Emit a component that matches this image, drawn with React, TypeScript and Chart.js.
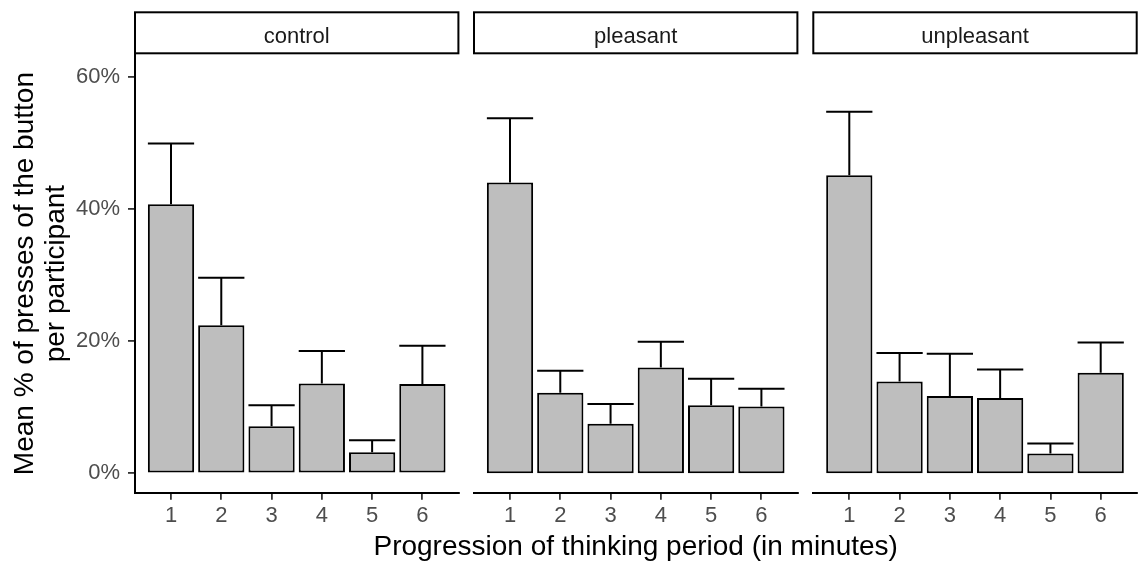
import React, { useEffect, useRef } from 'react';
import { Chart, registerables } from 'chart.js';

Chart.register(...registerables);

// ---- data ----
const minutes = [1, 2, 3, 4, 5, 6];
const conditions = ['control', 'pleasant', 'unpleasant'];
const controlMean = [40.7, 22.4, 7.1, 13.6, 3.2, 13.5];
const controlUpper = [49.9, 29.6, 10.3, 18.5, 5.0, 19.3];
const pleasantMean = [44.0, 12.2, 7.5, 16.0, 10.3, 10.1];
const pleasantUpper = [53.7, 15.5, 10.5, 19.9, 14.3, 12.8];
const unpleasantMean = [45.1, 13.9, 11.7, 11.4, 3.0, 15.2];
const unpleasantUpper = [54.7, 18.2, 18.1, 15.7, 4.5, 19.8];
const yTicks = [0, 20, 40, 60];
const yTitle = ['Mean % of presses of the button', 'per participant'];
const xTitle = 'Progression of thinking period (in minutes)';

const means = [controlMean, pleasantMean, unpleasantMean];
const uppers = [controlUpper, pleasantUpper, unpleasantUpper];

// ---- layout ----
const W = 1144;
const H = 562;
const PANEL_LEFT = [135, 474, 813.3];
const PANEL_W = 323.4;
const PLOT_TOP = 54.5;
const PLOT_BOTTOM = 492.7;
const STRIP_TOP = 12.3;
const STRIP_BOTTOM = 53.3;
const FONT = "'Liberation Sans', Arial, sans-serif";

function makeConfig(i: number): any {
  const left = PANEL_LEFT[i];
  const showY = i === 0;
  const mean = means[i];
  const upper = uppers[i];

  const errorBars = {
    id: 'errorBars' + i,
    afterDatasetsDraw(chart: any) {
      const meta = chart.getDatasetMeta(0);
      const ys = chart.scales.y;
      const ctx = chart.ctx;
      ctx.save();
      ctx.strokeStyle = '#000000';
      ctx.lineWidth = 2;
      meta.data.forEach((bar: any, j: number) => {
        const x = bar.x;
        const half = bar.width / 2;
        const yTop = ys.getPixelForValue(upper[j]);
        const yMean = ys.getPixelForValue(mean[j]);
        ctx.beginPath();
        ctx.moveTo(x, yMean);
        ctx.lineTo(x, yTop);
        ctx.moveTo(x - half, yTop);
        ctx.lineTo(x + half, yTop);
        ctx.stroke();
      });
      ctx.restore();
    },
  };

  const strip = {
    id: 'strip' + i,
    afterDraw(chart: any) {
      const { left: l, right: r } = chart.chartArea;
      const ctx = chart.ctx;
      ctx.save();
      ctx.fillStyle = '#ffffff';
      ctx.fillRect(l, STRIP_TOP, r - l, STRIP_BOTTOM - STRIP_TOP);
      ctx.strokeStyle = '#000000';
      ctx.lineWidth = 2;
      ctx.strokeRect(l, STRIP_TOP, r - l, STRIP_BOTTOM - STRIP_TOP);
      ctx.fillStyle = '#1A1A1A';
      ctx.font = `22px ${FONT}`;
      ctx.textAlign = 'center';
      ctx.textBaseline = 'alphabetic';
      ctx.fillText(conditions[i], (l + r) / 2, 43.3);
      if (i === 1) {
        ctx.fillStyle = '#000000';
        ctx.font = `28px ${FONT}`;
        ctx.textBaseline = 'middle';
        ctx.fillText(xTitle, (l + r) / 2, 547);
      }
      ctx.restore();
    },
  };

  return {
    type: 'bar',
    data: {
      datasets: [
        {
          label: conditions[i],
          data: minutes.map((m, j) => ({ x: m, y: mean[j] })),
          backgroundColor: '#BEBEBE',
          borderColor: '#000000',
          borderWidth: 2,
          borderSkipped: false,
          barPercentage: 0.92,
          categoryPercentage: 1,
        },
      ],
    },
    options: {
      animation: false,
      responsive: false,
      devicePixelRatio: 1,
      events: [],
      layout: {
        padding: {
          left: showY ? 0 : left,
          right: W - (left + PANEL_W),
          top: PLOT_TOP,
          bottom: 0,
        },
      },
      plugins: {
        legend: { display: false },
        tooltip: { enabled: false },
        title: { display: false },
      },
      scales: {
        x: {
          type: 'linear',
          min: 0.284,
          max: 6.716,
          offset: false,
          afterBuildTicks(scale: any) {
            scale.ticks = minutes.map((v) => ({ value: v }));
          },
          afterFit(scale: any) {
            scale.height = H - PLOT_BOTTOM;
          },
          ticks: {
            includeBounds: false,
            autoSkip: false,
            maxRotation: 0,
            color: '#4D4D4D',
            padding: 3,
            font: { family: FONT, size: 22, lineHeight: 1.2 },
            callback: (v: any) => String(v),
          },
          grid: {
            display: true,
            drawOnChartArea: false,
            drawTicks: true,
            tickLength: 7,
            tickColor: '#333333',
            tickWidth: 1.8,
            lineWidth: 1.8,
            offset: false,
          },
          border: { display: true, color: '#000000', width: 2 },
          title: { display: false },
        },
        y: {
          type: 'linear',
          display: showY,
          min: -2.935,
          max: 63.36,
          afterBuildTicks(scale: any) {
            scale.ticks = yTicks.map((v) => ({ value: v }));
          },
          afterFit(scale: any) {
            scale.width = showY ? left : 0;
          },
          ticks: {
            includeBounds: false,
            color: '#4D4D4D',
            padding: 8,
            font: { family: FONT, size: 22 },
            callback: (v: any) => v + '%',
          },
          grid: {
            display: true,
            drawOnChartArea: false,
            drawTicks: true,
            tickLength: 7,
            tickColor: '#333333',
            tickWidth: 1.8,
            lineWidth: 1.8,
          },
          border: { display: true, color: '#000000', width: 2 },
          title: {
            display: showY,
            text: yTitle,
            color: '#000000',
            font: { family: FONT, size: 28, lineHeight: 31 / 28 },
            padding: { top: 10, bottom: 0 },
          },
        },
      },
    },
    plugins: [errorBars, strip],
  };
}

function Panel({ index }: { index: number }) {
  const ref = useRef<HTMLCanvasElement>(null);
  useEffect(() => {
    if (!ref.current) return;
    const chart = new Chart(ref.current, makeConfig(index));
    return () => chart.destroy();
  }, [index]);
  return (
    <canvas
      ref={ref}
      width={W}
      height={H}
      style={{ position: 'absolute', left: 0, top: 0, width: W, height: H }}
    />
  );
}

export default function App() {
  return (
    <div
      style={{
        position: 'absolute',
        left: 0,
        top: 0,
        width: W,
        height: H,
        background: '#ffffff',
        overflow: 'hidden',
      }}
    >
      {conditions.map((c, i) => (
        <Panel key={c} index={i} />
      ))}
    </div>
  );
}
